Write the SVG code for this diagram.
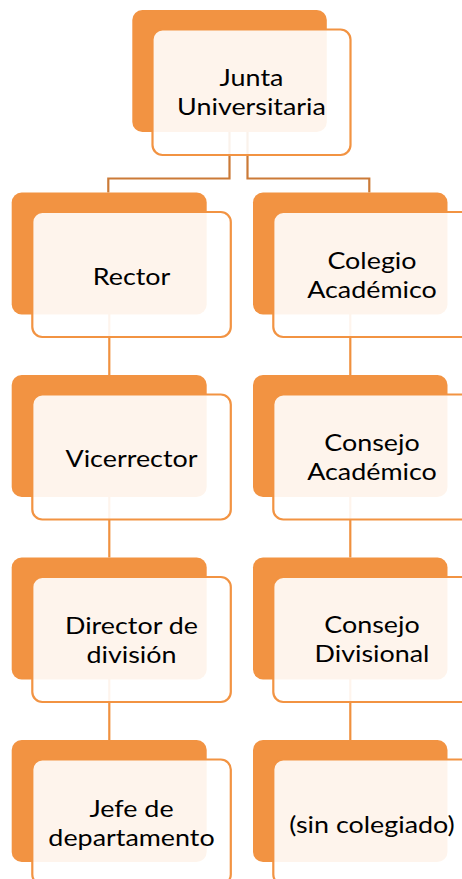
<svg xmlns="http://www.w3.org/2000/svg" width="462" height="879" viewBox="0 0 462 879">
<style>
.back{fill:#F29342;}
.front{fill:#FFFFFF;fill-opacity:0.9;stroke:#F29342;stroke-width:2.2;}
.con{fill:none;stroke:#F0913F;stroke-width:2.2;}
.top{fill:none;stroke:#CB7A37;stroke-width:2.2;}
text{font-family:Lato,"Liberation Sans",sans-serif;font-size:24px;fill:#000;text-anchor:middle;}
</style>
<rect width="462" height="879" fill="#FFFFFF"/>
<g id="connectors">
<path class="top" d="M229.5,132V178.5H108.3V192.5M247.5,132V178.5H369.3V192.5"/>
<path class="con" d="M109.3,314V375M109.3,497V557.5M109.3,679V740"/>
<path class="con" d="M350.3,314V375M350.3,497V557.5M350.3,679V740"/>
</g>
<g id="junta">
<rect class="back" x="132.3" y="10" width="194.5" height="122" rx="10"/>
<rect class="front" x="152.5" y="29.5" width="198" height="125.5" rx="10"/>
<text transform="matrix(1.12 0 0 1 251.5 0)" x="0" y="86">Junta<tspan x="0" dy="29">Universitaria</tspan></text>
</g>
<g id="rector">
<rect class="back" x="11.7" y="192.5" width="195" height="122" rx="10"/>
<rect class="front" x="32.3" y="212" width="198.5" height="125" rx="10"/>
<text transform="matrix(1.12 0 0 1 131.5 0)" x="0" y="285">Rector</text>
</g>
<g id="colegio">
<rect class="back" x="253" y="192.5" width="194.5" height="122" rx="10"/>
<rect class="front" x="273.3" y="212" width="198.5" height="125" rx="10"/>
<text transform="matrix(1.12 0 0 1 372 0)" x="0" y="269.5">Colegio<tspan x="0" dy="29">Académico</tspan></text>
</g>
<g id="vicerrector">
<rect class="back" x="11.7" y="375" width="195" height="122" rx="10"/>
<rect class="front" x="32.3" y="394.5" width="198.5" height="125" rx="10"/>
<text transform="matrix(1.12 0 0 1 131.5 0)" x="0" y="467.5">Vicerrector</text>
</g>
<g id="consejo-academico">
<rect class="back" x="253" y="375" width="194.5" height="122" rx="10"/>
<rect class="front" x="273.3" y="394.5" width="198.5" height="125" rx="10"/>
<text transform="matrix(1.12 0 0 1 372 0)" x="0" y="451.5">Consejo<tspan x="0" dy="29">Académico</tspan></text>
</g>
<g id="director">
<rect class="back" x="11.7" y="557.5" width="195" height="122" rx="10"/>
<rect class="front" x="32.3" y="577" width="198.5" height="125" rx="10"/>
<text transform="matrix(1.12 0 0 1 131.5 0)" x="0" y="634">Director de<tspan x="0" dy="29">división</tspan></text>
</g>
<g id="consejo-divisional">
<rect class="back" x="253" y="557.5" width="194.5" height="122" rx="10"/>
<rect class="front" x="273.3" y="577" width="198.5" height="125" rx="10"/>
<text transform="matrix(1.12 0 0 1 372 0)" x="0" y="633.5">Consejo<tspan x="0" dy="29">Divisional</tspan></text>
</g>
<g id="jefe">
<rect class="back" x="11.7" y="740" width="195" height="122" rx="10"/>
<rect class="front" x="32.3" y="759.5" width="198.5" height="125" rx="10"/>
<text transform="matrix(1.12 0 0 1 131.5 0)" x="0" y="817">Jefe de<tspan x="0" dy="29">departamento</tspan></text>
</g>
<g id="sin-colegiado">
<rect class="back" x="253" y="740" width="194.5" height="122" rx="10"/>
<rect class="front" x="273.3" y="759.5" width="198.5" height="125" rx="10"/>
<text transform="matrix(1.12 0 0 1 372 0)" x="0" y="833">(sin colegiado)</text>
</g>
</svg>
